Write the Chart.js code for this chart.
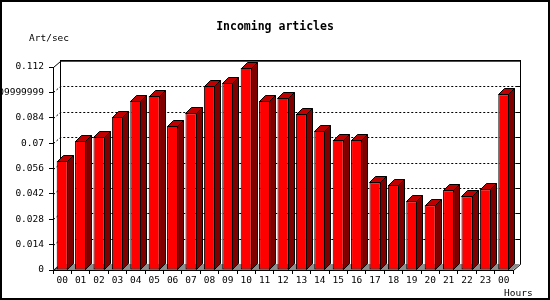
<!DOCTYPE html>
<html><head><meta charset="utf-8">
<script src="https://cdn.jsdelivr.net/npm/chart.js@4.4.1/dist/chart.umd.min.js"></script>
<style>html,body{margin:0;padding:0;background:#fff}</style>
</head><body>
<canvas id="c" width="550" height="300"></canvas>
<script>
const hours = ["00","01","02","03","04","05","06","07","08","09","10","11","12","13","14","15","16","17","18","19","20","21","22","23","00"];
const artPerSec = [0.0601,0.0712,0.0734,0.0844,0.0932,0.0960,0.0794,0.0865,0.1015,0.1032,0.1114,0.0932,0.0949,0.0861,0.0767,0.0717,0.0717,0.0484,0.0469,0.0379,0.0357,0.0440,0.0407,0.0445,0.0969];
const yTickValues = [0,0.014,0.028,0.042,0.056,0.07,0.084,0.098,0.112];
const yTickLabels = ["0","0.014","0.028","0.042","0.056","0.07","0.084","0.09999999","0.112"];
const chartTitle = "Incoming articles";
const yUnit = "Art/sec";
const xUnit = "Hours";

const FONT = "'DejaVu Sans Mono', monospace";
const WDX = 7, WDY = 6, BD = 6;

const threeD = {
  id: 'threeD',
  beforeDatasetsDraw(chart) {
    const {ctx, chartArea: a, scales: {y}} = chart;
    const L = Math.round(a.left), R = Math.round(a.right);
    ctx.save();
    const yb = Math.round(y.getPixelForValue(0));
    // floor
    ctx.fillStyle = '#8c8c8c';
    ctx.beginPath();
    ctx.moveTo(L, yb); ctx.lineTo(R, yb); ctx.lineTo(R + WDX, yb - WDY); ctx.lineTo(L + WDX, yb - WDY);
    ctx.closePath(); ctx.fill();
    // dotted back-wall gridlines
    ctx.strokeStyle = '#000'; ctx.lineWidth = 1;
    ctx.setLineDash([2, 2]);
    for (let i = 1; i < yTickValues.length - 1; i++) {
      const py = Math.round(y.getPixelForValue(yTickValues[i])) + 0.5;
      ctx.beginPath();
      ctx.moveTo(L + 0.5, py); ctx.lineTo(L + WDX + 0.5, py - WDY); ctx.lineTo(R + WDX, py - WDY);
      ctx.stroke();
    }
    ctx.setLineDash([]);
    // right ticks on back wall
    for (let i = 1; i < yTickValues.length - 1; i++) {
      const py = Math.round(y.getPixelForValue(yTickValues[i])) + 0.5 - WDY;
      ctx.beginPath(); ctx.moveTo(R + WDX - 4, py); ctx.lineTo(R + WDX, py); ctx.stroke();
    }
    // walls
    const top = Math.round(y.getPixelForValue(yTickValues[yTickValues.length - 1]));
    ctx.beginPath();
    ctx.moveTo(L + 0.5, top + 0.5); ctx.lineTo(L + WDX + 0.5, top - WDY + 0.5);
    ctx.moveTo(L + WDX + 0.5, top - WDY); ctx.lineTo(L + WDX + 0.5, yb - WDY);
    ctx.moveTo(L + 0.5, yb + 0.5); ctx.lineTo(L + WDX + 0.5, yb - WDY + 0.5);
    ctx.moveTo(R + WDX + 0.5, top - WDY - 1); ctx.lineTo(R + WDX + 0.5, yb - WDY + 0.5);
    ctx.lineTo(R + 0.5, yb + 0.5);
    ctx.moveTo(L + WDX, top - WDY - 0.5); ctx.lineTo(R + WDX + 1, top - WDY - 0.5);
    ctx.stroke();
    ctx.strokeStyle = '#ff0000';
    ctx.beginPath(); ctx.moveTo(L + WDX + 1, top - WDY + 0.5); ctx.lineTo(R + WDX, top - WDY + 0.5); ctx.stroke();
    ctx.restore();
  },
  afterDatasetsDraw(chart) {
    const {ctx} = chart;
    const meta = chart.getDatasetMeta(0);
    ctx.save();
    ctx.strokeStyle = '#000'; ctx.lineWidth = 1;
    meta.data.forEach(bar => {
      const p = bar.getProps(['x', 'y', 'base', 'width'], true);
      const l = Math.round(p.x - p.width / 2) + 0.5, r = Math.round(p.x + p.width / 2) - 0.5;
      const t = Math.round(p.y) + 0.5, b = Math.round(p.base) - 0.5;
      ctx.fillStyle = '#800000';
      ctx.beginPath();
      ctx.moveTo(r, t); ctx.lineTo(r + BD, t - BD); ctx.lineTo(r + BD, b - BD); ctx.lineTo(r, b);
      ctx.closePath(); ctx.fill(); ctx.stroke();
      ctx.fillStyle = '#c00000';
      ctx.beginPath();
      ctx.moveTo(l, t); ctx.lineTo(l + BD, t - BD); ctx.lineTo(r + BD, t - BD); ctx.lineTo(r, t);
      ctx.closePath(); ctx.fill(); ctx.stroke();
    });
    ctx.restore();
  },
  afterDraw(chart) {
    const {ctx, chartArea: a} = chart;
    ctx.save();
    ctx.fillStyle = '#000';
    ctx.font = "9.5px " + FONT;
    ctx.textBaseline = 'alphabetic';
    ctx.textAlign = 'left';
    ctx.fillText(yUnit, 29, 41);
    ctx.fillText(xUnit, 504, 296);
    ctx.strokeStyle = '#000'; ctx.lineWidth = 2;
    ctx.strokeRect(1, 1, 548, 298);
    ctx.restore();
  }
};

Chart.defaults.font.family = FONT;
Chart.defaults.color = '#000';

new Chart(document.getElementById('c'), {
  type: 'bar',
  data: {
    labels: hours,
    datasets: [{
      data: artPerSec,
      backgroundColor: '#ff0000',
      borderColor: '#000',
      borderWidth: 1,
      borderSkipped: false,
      barPercentage: 0.6,
      categoryPercentage: 1
    }]
  },
  options: {
    responsive: false,
    animation: false,
    devicePixelRatio: 1,
    layout: {padding: {left: 0, right: 0, top: 0, bottom: 0}},
    plugins: {
      legend: {display: false},
      tooltip: {enabled: false},
      title: {
        display: true, text: chartTitle, color: '#000',
        font: {family: FONT, size: 11.5, weight: 'bold'},
        padding: {top: 20, bottom: 33.2}
      }
    },
    scales: {
      x: {
        grid: {display: true, drawOnChartArea: false, drawTicks: true, tickLength: 4, color: '#000', offset: true},
        border: {display: true, color: '#000'},
        ticks: {autoSkip: false, maxRotation: 0, minRotation: 0, padding: 1, font: {size: 9.5}, color: '#000'},
        afterFit(s) { s.height = 30; }
      },
      y: {
        min: 0, max: 0.112,
        afterBuildTicks(s) { s.ticks = yTickValues.map(v => ({value: v})); },
        grid: {display: true, drawOnChartArea: false, drawTicks: true, tickLength: 4, color: '#000'},
        border: {display: true, color: '#000'},
        ticks: {padding: 5, font: {size: 9.5}, color: '#000', callback: (v, i) => yTickLabels[i]},
        afterFit(s) { s.width = 53; }
      },
      yR: {
        type: 'linear', position: 'right', display: true,
        grid: {display: false}, border: {display: false}, ticks: {display: false},
        afterFit(s) { s.width = 37; }
      }
    }
  },
  plugins: [threeD]
});
</script>
</body></html>
